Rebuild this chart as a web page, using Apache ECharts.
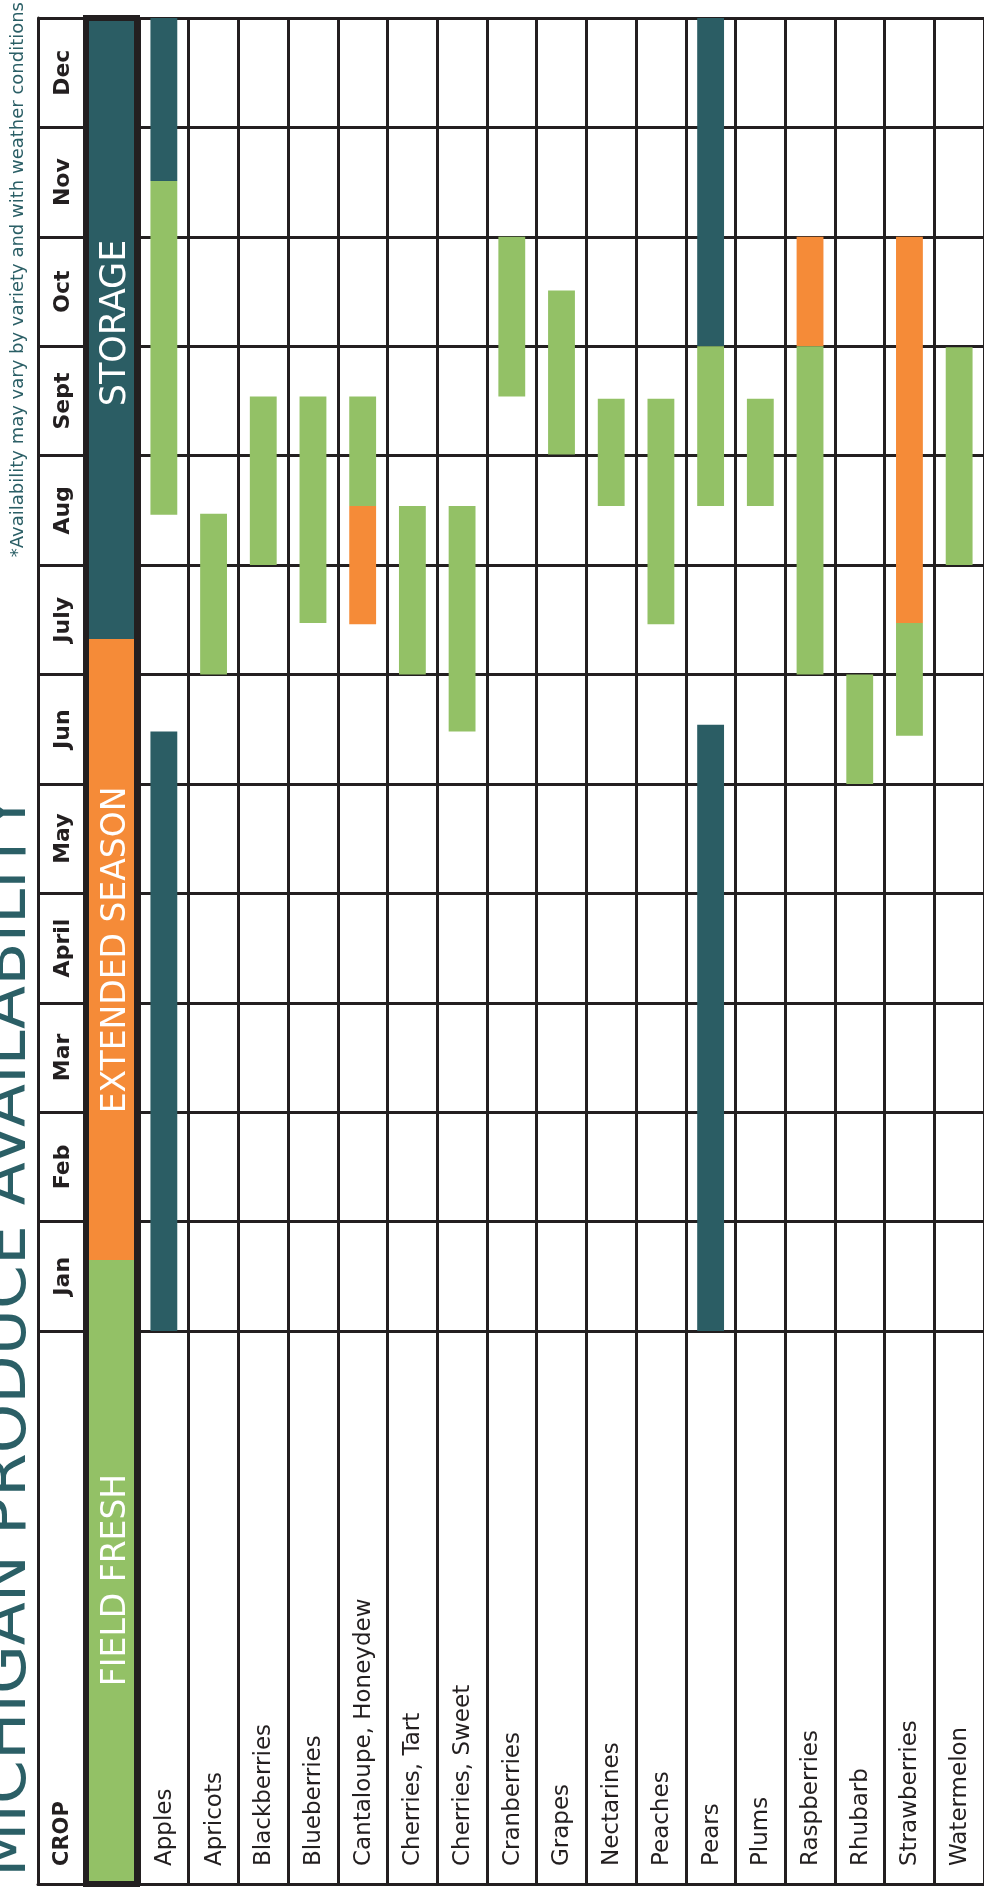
<!DOCTYPE html>
<html>
<head>
<meta charset="utf-8">
<script src="https://cdn.jsdelivr.net/npm/echarts@6/dist/echarts.min.js"></script>
<style>
html,body{margin:0;padding:0;background:#fff;}
#chart{width:984px;height:1891px;}
</style>
</head>
<body>
<div id="chart"></div>
<script>
// ---- DATA ----
const crops = ['Apples','Apricots','Blackberries','Blueberries','Cantaloupe, Honeydew','Cherries, Tart','Cherries, Sweet','Cranberries','Grapes','Nectarines','Peaches','Pears','Plums','Raspberries','Rhubarb','Strawberries','Watermelon'];
const months = ['Jan','Feb','Mar','April','May','Jun','July','Aug','Sept','Oct','Nov','Dec'];
// availability ranges in months since Jan 1 (0 = start of Jan, 12 = end of Dec)
const fieldFresh = [
  ['Apples', 7.46, 10.51], ['Apricots', 6.0, 7.47], ['Blackberries', 7.0, 8.54],
  ['Blueberries', 6.47, 8.54], ['Cantaloupe, Honeydew', 7.54, 8.54], ['Cherries, Tart', 6.0, 7.54],
  ['Cherries, Sweet', 5.48, 7.54], ['Cranberries', 8.54, 10.0], ['Grapes', 8.01, 9.51],
  ['Nectarines', 7.54, 8.52], ['Peaches', 6.46, 8.52], ['Pears', 7.54, 9.0],
  ['Plums', 7.54, 8.52], ['Raspberries', 6.0, 9.0], ['Rhubarb', 5.0, 6.0],
  ['Strawberries', 5.44, 6.47], ['Watermelon', 7.0, 8.99]
];
const extendedSeason = [
  ['Cantaloupe, Honeydew', 6.46, 7.54], ['Raspberries', 9.0, 10.0], ['Strawberries', 6.47, 10.0]
];
const storage = [
  ['Apples', 0, 5.48], ['Apples', 10.51, 12], ['Pears', 0, 5.54], ['Pears', 9.0, 12]
];
const legendLabels = ['FIELD FRESH', 'EXTENDED SEASON', 'STORAGE'];
const titleText = 'MICHIGAN PRODUCE AVAILABILITY';
const noteText = '*Availability may vary by variety and with weather conditions';
const headerText = 'CROP';

// ---- STYLE ----
const C_FRESH = '#93c166', C_EXT = '#f58b38', C_STORE = '#2b5d64', C_LINE = '#231f20', C_TEAL = '#2b5f66';
const lineStyle = { color: C_LINE, width: 3 };
const FONT = '"DejaVu Sans", "Open Sans", sans-serif';

const chart = echarts.init(document.getElementById('chart'), null, { renderer: 'canvas' });

function barSeries(name, ranges, color) {
  return {
    type: 'custom', name: name, xAxisIndex: 0, yAxisIndex: 0, z: 5,
    encode: { x: 0, y: [1, 2] },
    data: ranges.map(r => [crops.indexOf(r[0]), r[1], r[2]]),
    renderItem: function (params, api) {
      const c = api.value(0);
      const p0 = api.coord([c, api.value(1)]);
      const p1 = api.coord([c, api.value(2)]);
      const w = api.size([1, 0])[0] * 0.54;
      return { type: 'rect', shape: { x: p0[0] - w / 2, y: p1[1], width: w, height: p0[1] - p1[1] }, style: { fill: color } };
    }
  };
}

const catSplit = { show: true, interval: 0, lineStyle: lineStyle };

const option = {
  animation: false,
  backgroundColor: '#ffffff',
  grid: [
    { left: 139, top: 18, width: 850, height: 1313 },   // months x crops
    { left: 139, top: 1331, width: 850, height: 553 },  // crop label area
    { left: 38, top: 18, width: 46, height: 1313 },     // month header column
    { left: 38, top: 1331, width: 46, height: 553 }     // CROP header cell
  ],
  xAxis: [
    { gridIndex: 0, type: 'category', data: crops, boundaryGap: true, axisLine: { show: false }, axisTick: { show: false, interval: 0 }, axisLabel: { show: false, interval: 0 }, splitLine: catSplit },
    { gridIndex: 1, type: 'category', data: crops, boundaryGap: true, axisLine: { show: true, lineStyle: lineStyle }, axisTick: { show: false, interval: 0 }, axisLabel: { show: false, interval: 0 }, splitLine: catSplit },
    { gridIndex: 2, type: 'value', min: 0, max: 1, show: false },
    { gridIndex: 3, type: 'value', min: 0, max: 1, axisLine: { show: true, lineStyle: lineStyle }, axisTick: { show: false }, axisLabel: { show: false }, splitLine: { show: false } }
  ],
  yAxis: [
    { gridIndex: 0, type: 'value', min: 0, max: 12, interval: 1, axisLine: { show: false }, axisTick: { show: false }, axisLabel: { show: false }, splitLine: { show: true, lineStyle: lineStyle } },
    { gridIndex: 1, type: 'value', min: 0, max: 1, show: false },
    { gridIndex: 2, type: 'value', min: 0, max: 12, interval: 1, axisLine: { show: true, lineStyle: lineStyle }, axisTick: { show: false }, axisLabel: { show: false }, splitLine: { show: true, lineStyle: lineStyle } },
    { gridIndex: 3, type: 'value', min: 0, max: 1, axisLine: { show: true, lineStyle: lineStyle }, axisTick: { show: false }, axisLabel: { show: false }, splitLine: { show: false } }
  ],
  series: [
    barSeries('Storage', storage, C_STORE),
    barSeries('Extended Season', extendedSeason, C_EXT),
    barSeries('Field Fresh', fieldFresh, C_FRESH),
    {
      type: 'custom', name: 'months', xAxisIndex: 2, yAxisIndex: 2, z: 6,
      encode: { x: 0, y: 1 },
      data: months.map((m, i) => [0.5, i + 0.5]),
      renderItem: function (params, api) {
        const p = api.coord([api.value(0), api.value(1)]);
        return { type: 'text', x: p[0] + 2, y: p[1], rotation: Math.PI / 2,
          style: { text: months[params.dataIndex], fill: C_LINE, font: '700 22px ' + FONT, align: 'center', verticalAlign: 'middle' } };
      }
    },
    {
      type: 'custom', name: 'crops', xAxisIndex: 1, yAxisIndex: 1, z: 6,
      encode: { x: 0, y: 1 },
      data: crops.map((c, i) => [i, 0]),
      renderItem: function (params, api) {
        const p = api.coord([api.value(0), api.value(1)]);
        return { type: 'text', x: p[0] + 1, y: p[1] - 18, rotation: Math.PI / 2,
          style: { text: crops[params.dataIndex], fill: C_LINE, font: '400 23px ' + FONT, align: 'left', verticalAlign: 'middle' } };
      }
    },
    {
      type: 'custom', name: 'cropHeader', xAxisIndex: 3, yAxisIndex: 3, z: 6,
      encode: { x: 0, y: 1 },
      data: [[0.5, 0]],
      renderItem: function (params, api) {
        const p = api.coord([api.value(0), api.value(1)]);
        return { type: 'text', x: p[0] + 2, y: p[1] - 18, rotation: Math.PI / 2,
          style: { text: headerText, fill: C_LINE, font: '700 21px ' + FONT, align: 'left', verticalAlign: 'middle' } };
      }
    }
  ],
  graphic: [
    // legend column
    { type: 'rect', z: 100, shape: { x: 83, y: 15, width: 57, height: 1872 }, style: { fill: C_LINE } },
    { type: 'rect', z: 101, shape: { x: 89, y: 21, width: 45, height: 618 }, style: { fill: C_STORE } },
    { type: 'rect', z: 101, shape: { x: 89, y: 639, width: 45, height: 621 }, style: { fill: C_EXT } },
    { type: 'rect', z: 101, shape: { x: 89, y: 1260, width: 45, height: 621 }, style: { fill: C_FRESH } },
    { type: 'text', z: 102, x: 116, y: 323, rotation: Math.PI / 2, style: { text: legendLabels[2], fill: '#ffffff', font: '400 35px ' + FONT, align: 'center', verticalAlign: 'middle' } },
    { type: 'text', z: 102, x: 116, y: 950, rotation: Math.PI / 2, style: { text: legendLabels[1], fill: '#ffffff', font: '400 33px ' + FONT, align: 'center', verticalAlign: 'middle' } },
    { type: 'text', z: 102, x: 116, y: 1580, rotation: Math.PI / 2, style: { text: legendLabels[0], fill: '#ffffff', font: '400 33px ' + FONT, align: 'center', verticalAlign: 'middle' } },
    // title & footnote
    { type: 'text', z: 102, x: 9, y: 1877, rotation: Math.PI / 2, style: { text: titleText, fill: C_TEAL, font: '400 63px ' + FONT, align: 'left', verticalAlign: 'middle' } },
    { type: 'text', z: 102, x: 18, y: 2, rotation: Math.PI / 2, style: { text: noteText, fill: C_TEAL, font: '400 18px ' + FONT, align: 'right', verticalAlign: 'middle' } }
  ]
};
chart.setOption(option);
</script>
</body>
</html>
